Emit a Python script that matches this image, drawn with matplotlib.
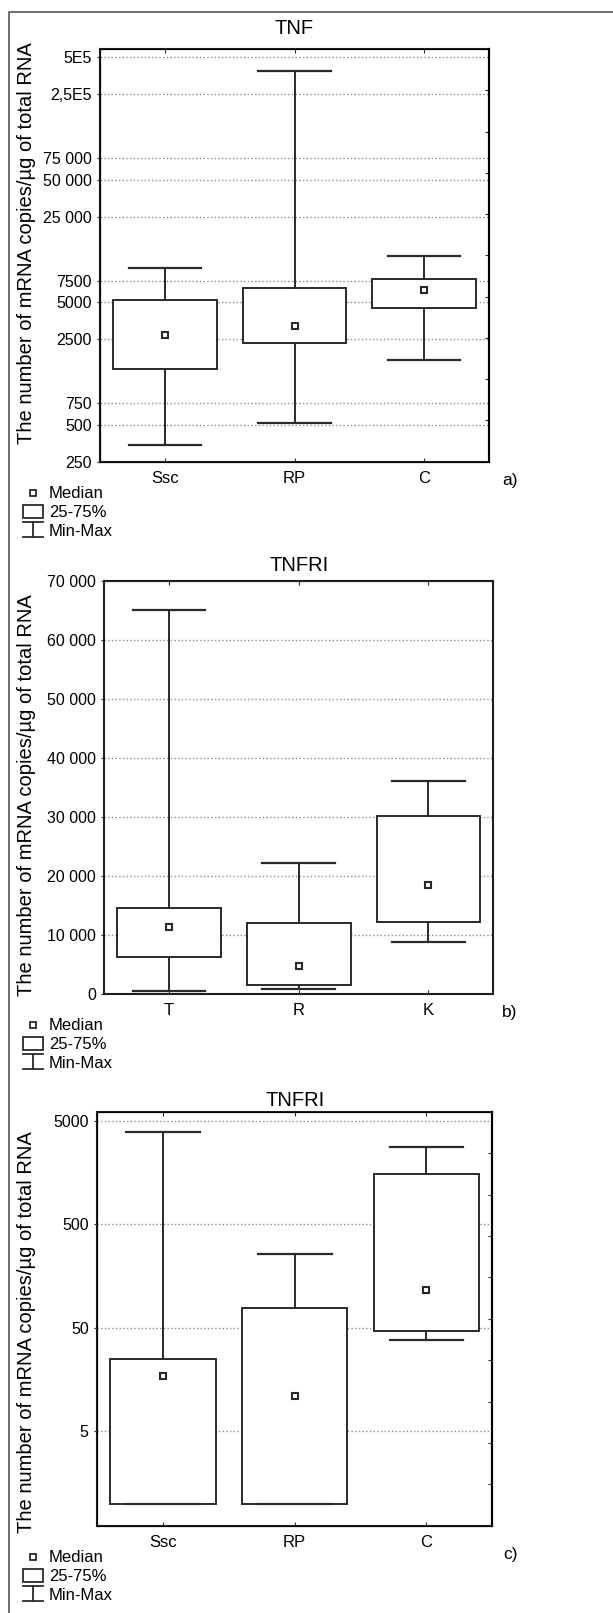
import numpy as np
import matplotlib.pyplot as plt
from matplotlib.lines import Line2D
from matplotlib.patches import Rectangle
from matplotlib.ticker import FixedLocator, NullLocator

plt.rcParams['font.family'] = ['Liberation Sans', 'DejaVu Sans']

W, H = 613, 1613

# a) TNF, log scale
a_groups = ["Ssc", "RP", "C"]
a_min = [340, 514, 1690]
a_q1 = [1430, 2330, 4470]
a_med = [2700, 3220, 6270]
a_q3 = [5250, 6580, 7750]
a_max = [9600, 389000, 11900]
a_ticks = [250, 500, 750, 2500, 5000, 7500, 25000, 50000, 75000, 250000, 500000]
a_labels = ["250", "500", "750", "2500", "5000", "7500", "25 000", "50 000",
            "75 000", "2,5E5", "5E5"]

# b) TNFRI, linear scale
b_groups = ["T", "R", "K"]
b_min = [400, 800, 8800]
b_q1 = [6270, 1520, 12150]
b_med = [11250, 4750, 18370]
b_q3 = [14530, 11930, 30100]
b_max = [65000, 22200, 36000]
b_ticks = [0, 10000, 20000, 30000, 40000, 50000, 60000, 70000]
b_labels = ["0", "10 000", "20 000", "30 000", "40 000", "50 000", "60 000", "70 000"]

# c) TNFRI, log scale
c_groups = ["Ssc", "RP", "C"]
c_min = [1, 1, 38]
c_q1 = [1, 1, 47]
c_med = [17, 11, 117]
c_q3 = [25, 78, 1550]
c_max = [3900, 260, 2800]
c_ticks = [5, 50, 500, 5000]
c_labels = ["5", "50", "500", "5000"]

ylabel = "The number of mRNA copies/\u00b5g of total RNA"
dark = '#2a2a2a'

fig = plt.figure(figsize=(W / 100, H / 100), dpi=100)


def fx(x):
    return x / W


def fy(y):
    return 1 - y / H


def legend(x, y):
    # median / 25-75% / Min-Max key, drawn in figure pixels
    fig.add_artist(Line2D([fx(x)], [fy(y)], marker='s', ms=4.5, mfc='white',
                          mec=dark, mew=1.3, transform=fig.transFigure))
    fig.text(fx(x + 16), fy(y), "Median", fontsize=12, va='center')
    fig.add_artist(Rectangle((fx(x - 10), fy(y + 25)), 20 / W, 13 / H, fill=False,
                             ec=dark, lw=1.3, transform=fig.transFigure))
    fig.text(fx(x + 16), fy(y + 19.5), "25-75%", fontsize=12, va='center')
    for xs, ys in [([x - 10, x + 10], [y + 28.5, y + 28.5]),
                   ([x, x], [y + 28.5, y + 43.5]),
                   ([x - 10, x + 10], [y + 43.5, y + 43.5])]:
        fig.add_artist(Line2D([fx(v) for v in xs], [fy(v) for v in ys], color=dark,
                              lw=1.3, transform=fig.transFigure))
    fig.text(fx(x + 16), fy(y + 38.5), "Min-Max", fontsize=12, va='center')


def panel(box, title, title_y, groups, lo, q1, med, q3, hi, ylim, ticks, labels,
          log, tag, tag_y, leg_y, ylab_y):
    l, r, t, b = box
    ax = fig.add_axes([fx(l), fy(b), (r - l) / W, (b - t) / H])
    if log:
        ax.set_yscale('log')
    x = np.arange(1, len(groups) + 1)
    stats = [dict(whislo=lo[i], q1=q1[i], med=med[i], q3=q3[i], whishi=hi[i])
             for i in range(len(groups))]
    ax.bxp(stats, positions=x, widths=0.8, capwidths=0.56, showfliers=False,
           patch_artist=True,
           boxprops=dict(facecolor='white', edgecolor=dark, lw=1.4),
           whiskerprops=dict(color=dark, lw=1.4),
           capprops=dict(color=dark, lw=1.6),
           medianprops=dict(linestyle='none'))
    ax.plot(x, med, 's', ms=5, mfc='white', mec=dark, mew=1.5, zorder=5)
    ax.set_xlim(0.5, len(groups) + 0.5)
    ax.set_ylim(*ylim)
    ax.yaxis.set_major_locator(FixedLocator(ticks))
    ax.yaxis.set_minor_locator(NullLocator())
    ax.set_yticklabels(labels)
    ax.set_xticks(x)
    ax.set_xticklabels(groups)
    ax.yaxis.grid(True, linestyle=':', color='#8c8c8c', lw=1.0)
    ax.set_axisbelow(True)
    ax.tick_params(axis='x', direction='in', length=3, top=True, pad=7,
                   labelsize=12, color=dark)
    ax.tick_params(axis='y', direction='out', length=2, pad=4, labelsize=11.5,
                   color=dark)
    for s in ax.spines.values():
        s.set_linewidth(1.5)
        s.set_color('#1e1e1e')
    if log:
        ax2 = ax.twinx()
        ax2.set_ylim(0, 1)
        ax2.set_yticks(np.arange(1, 10) / 10)
        ax2.tick_params(direction='in', length=3, labelright=False, color=dark)
        ax2.spines['right'].set_linewidth(1.5)
    fig.text(fx((l + r) / 2), fy(title_y), title, fontsize=14.5, ha='center',
             va='center')
    fig.text(fx(27), fy(ylab_y), ylabel, fontsize=14.5, rotation=90,
             ha='center', va='center')
    fig.text(fx(510), fy(tag_y), tag, fontsize=12.5, ha='center', va='center')
    legend(33, leg_y)
    return ax


panel((100, 489, 49, 461.7), "TNF", 29, a_groups, a_min, a_q1, a_med, a_q3, a_max,
      (250, 5.85e5), a_ticks, a_labels, True, "a)", 481, 493, 243)
panel((104.3, 493.3, 580.7, 993.7), "TNFRI", 565.7, b_groups, b_min, b_q1, b_med,
      b_q3, b_max, (0, 70000), b_ticks, b_labels, False, "b)", 1012, 1025, 795)
panel((97, 492.3, 1111.7, 1525.7), "TNFRI", 1100, c_groups, c_min, c_q1, c_med,
      c_q3, c_max, (0.61, 6150), c_ticks, c_labels, True, "c)", 1554, 1557, 1332)

# outer frame (top and left edges)
fig.add_artist(Line2D([fx(9), fx(9), fx(613)], [fy(1613), fy(12), fy(12)],
                      color='#555555', lw=1.2, transform=fig.transFigure))

fig.savefig("out.png", dpi=100)
